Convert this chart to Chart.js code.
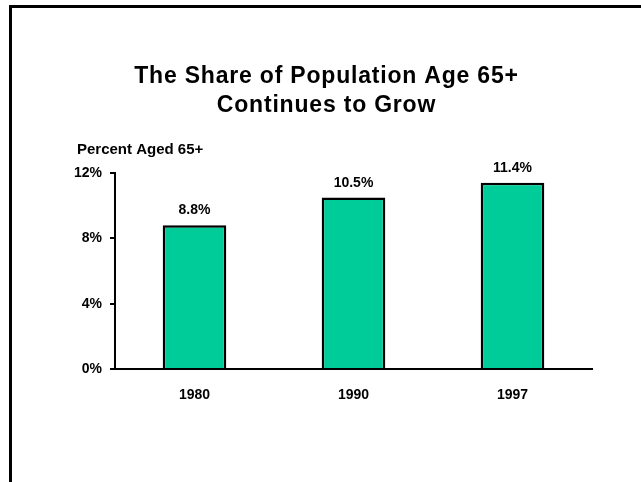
<!DOCTYPE html>
<html>
<head>
<meta charset="utf-8">
<script src="https://cdn.jsdelivr.net/npm/chart.js@4/dist/chart.umd.min.js"></script>
<style>
  html, body { margin: 0; padding: 0; background: #ffffff; }
  #wrap { width: 641px; height: 482px; position: relative; }
</style>
</head>
<body>
<div id="wrap"><canvas id="c" width="641" height="482"></canvas></div>
<script>
// Share of the population aged 65 and over, by year
const years = ['1980', '1990', '1997'];
const sharePct = [8.8, 10.5, 11.4];
const yTicks = [0, 4, 8, 12];

const titleLines = ['The Share of Population Age 65+', 'Continues to Grow'];
const axisCaption = 'Percent Aged 65+';

const FONT = 'Arial, "Liberation Sans", Helvetica, sans-serif';

// Page frame, headline and the caption over the value axis
const decorations = {
  id: 'decorations',
  beforeDraw(chart) {
    const ctx = chart.ctx;
    ctx.save();
    ctx.fillStyle = '#ffffff';
    ctx.fillRect(0, 0, chart.width, chart.height);
    ctx.fillStyle = '#000000';
    ctx.fillRect(9, 5, chart.width - 9, 3);
    ctx.fillRect(9, 5, 3, chart.height - 5);
    ctx.restore();
  },
  afterDraw(chart) {
    const ctx = chart.ctx;
    const area = chart.chartArea;
    ctx.save();
    ctx.fillStyle = '#000000';
    ctx.textAlign = 'center';
    ctx.textBaseline = 'alphabetic';
    ctx.font = 'bold 23px ' + FONT;
    ctx.letterSpacing = '0.8px';
    const cx = chart.width / 2 + 6;
    ctx.fillText(titleLines[0], cx, 83);
    ctx.fillText(titleLines[1], cx, 112);
    ctx.letterSpacing = '0px';
    ctx.textAlign = 'left';
    ctx.font = 'bold 15px ' + FONT;
    ctx.fillText(axisCaption, area.left - 38, area.top - 19);
    ctx.restore();
  }
};

// Value printed above each bar
const barValues = {
  id: 'barValues',
  afterDatasetsDraw(chart) {
    const ctx = chart.ctx;
    const meta = chart.getDatasetMeta(0);
    ctx.save();
    ctx.fillStyle = '#000000';
    ctx.font = 'bold 14px ' + FONT;
    ctx.textAlign = 'center';
    ctx.textBaseline = 'alphabetic';
    meta.data.forEach((bar, i) => {
      ctx.fillText(sharePct[i].toFixed(1) + '%', bar.x, bar.y - 11);
    });
    ctx.restore();
  }
};

new Chart(document.getElementById('c'), {
  type: 'bar',
  data: {
    labels: years,
    datasets: [{
      data: sharePct,
      backgroundColor: '#00CC99',
      borderColor: '#000000',
      borderWidth: 2.5,
      borderSkipped: 'bottom',
      categoryPercentage: 1,
      barPercentage: 0.4
    }]
  },
  options: {
    responsive: false,
    animation: false,
    devicePixelRatio: 1,
    layout: { padding: { top: 173, right: 49, bottom: 0, left: 0 } },
    plugins: {
      legend: { display: false },
      title: { display: false },
      tooltip: { enabled: false }
    },
    scales: {
      x: {
        grid: { display: false },
        border: { display: true, color: '#000000', width: 2 },
        ticks: {
          color: '#000000',
          font: { family: FONT, size: 14, weight: 'bold' },
          padding: 10,
          maxRotation: 0
        },
        afterFit(scale) { scale.height = 113; }
      },
      y: {
        min: 0,
        max: 12,
        afterBuildTicks(scale) { scale.ticks = yTicks.map(v => ({ value: v })); },
        grid: {
          drawOnChartArea: false,
          drawTicks: true,
          tickLength: 5,
          tickColor: '#000000',
          lineWidth: 2
        },
        border: { display: true, color: '#000000', width: 2 },
        ticks: {
          color: '#000000',
          font: { family: FONT, size: 14, weight: 'bold' },
          padding: 8,
          callback: v => v + '%'
        },
        afterFit(scale) { scale.width = 115; }
      }
    }
  },
  plugins: [decorations, barValues]
});
</script>
</body>
</html>
